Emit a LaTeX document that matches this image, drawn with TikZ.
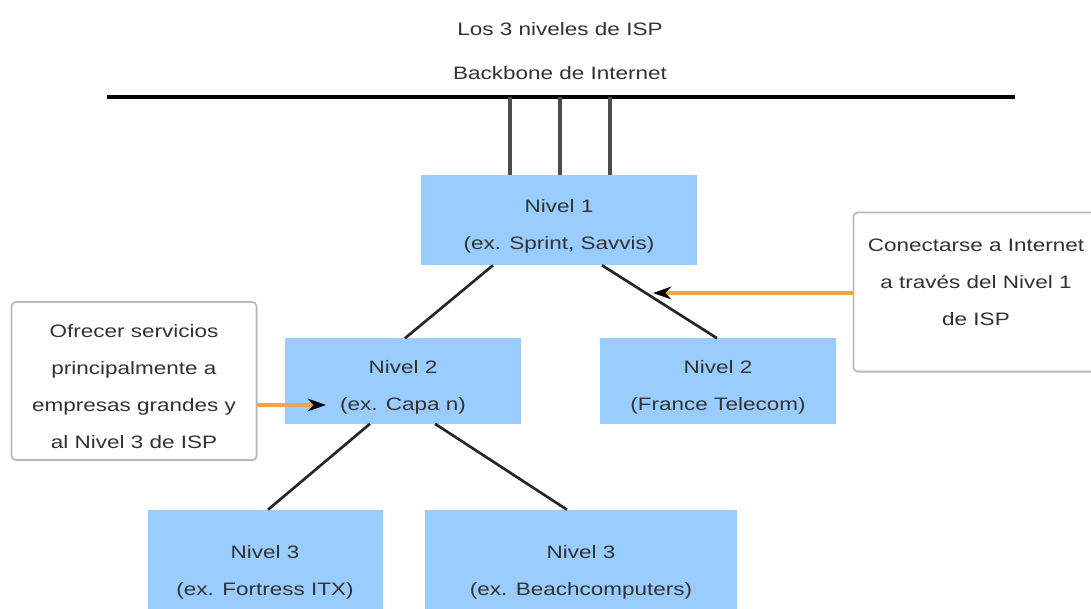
\documentclass[tikz,border=0pt]{standalone}
\usepackage{fontspec}
\setmainfont{Liberation Sans}[FakeStretch=1.25]
\usetikzlibrary{arrows.meta,calc,shadows}

\definecolor{tierblue}{RGB}{153,204,255}
\definecolor{calloutorange}{RGB}{240,165,70}
\definecolor{inktext}{RGB}{50,50,50}

\tikzset{
  txt/.style={font=\fontsize{12.8}{26.3}\selectfont, text=inktext, align=center},
  tier/.style={txt, text height=44pt, fill=tierblue, inner sep=0pt},
  note/.style={txt, draw=gray!55, line width=1.2pt, rounded corners=3pt, fill=white,
    inner sep=0pt, drop shadow={opacity=0.2, shadow xshift=1pt, shadow yshift=-1pt}},
  link/.style={line width=1.9pt, black!85},
  uplink/.style={line width=2.2pt, black!70},
  callout/.style={line width=2.4pt, calloutorange, -{Stealth[black, length=13pt, width=9pt]}}
}

\begin{document}
\begin{tikzpicture}[x=0.025cm, y=-0.025cm]
  \clip (0,0) rectangle (1091,609);
  \fill[white] (0,0) rectangle (1091,609);

  % titles
  \node[txt] (title) at (560,29) {Los 3 niveles de ISP};
  \node[txt] (bbtext) at (560,73) {Backbone de Internet};

  % backbone
  \coordinate (bbL) at (107,97);
  \coordinate (bbR) at (1015,97);
  \draw[line width=2.2pt] (bbL) -- (bbR);

  % tiers
  \node[tier, minimum width={276*0.025cm}, minimum height={90*0.025cm}] (n1) at (559,220)
    {Nivel 1\\(ex. Sprint, Savvis)};
  \node[tier, minimum width={236*0.025cm}, minimum height={85*0.025cm}] (n2a) at (403,381)
    {Nivel 2\\(ex. Capa n)};
  \node[tier, minimum width={236*0.025cm}, minimum height={85*0.025cm}] (n2b) at (718,381)
    {Nivel 2\\(France Telecom)};
  \node[tier, minimum width={235*0.025cm}, minimum height={112*0.025cm}] (n3a) at (265,566)
    {Nivel 3\\(ex. Fortress ITX)};
  \node[tier, minimum width={312*0.025cm}, minimum height={112*0.025cm}] (n3b) at (581,566)
    {Nivel 3\\(ex. Beachcomputers)};

  % links to backbone
  \foreach \dx in {-49,1,51}
    \draw[uplink] ($(n1.north)+(\dx,0)$) -- ($(n1.north)+(\dx,-78)$);

  % tree
  \draw[link] ($(n1.south)+(-66,0)$) -- ($(n2a.north)+(2,0)$);
  \draw[link] ($(n1.south)+(43,0)$) -- ($(n2b.north)+(-1,0)$);
  \draw[link] ($(n2a.south)+(-33,0)$) -- ($(n3a.north)+(3,0)$);
  \draw[link] ($(n2a.south)+(32,0)$) -- ($(n3b.north)+(-14,0)$);

  % notes
  \node[note, text height=96pt, minimum width={245*0.025cm}, minimum height={158*0.025cm}] (note1) at (134,381)
    {Ofrecer servicios\\principalmente a\\empresas grandes y\\al Nivel 3 de ISP};
  \node[note, minimum width={245*0.025cm}, minimum height={159*0.025cm}] (note2) at (976,292)
    {Conectarse a Internet\\a través del Nivel 1\\de ISP\\[-13pt]};

  \coordinate (tipL) at (326,405);
  \coordinate (tipR) at (653,293);
  \draw[callout] (note1.east |- tipL) -- (tipL);
  \draw[callout] (note2.west |- tipR) -- (tipR);
\end{tikzpicture}
\end{document}
